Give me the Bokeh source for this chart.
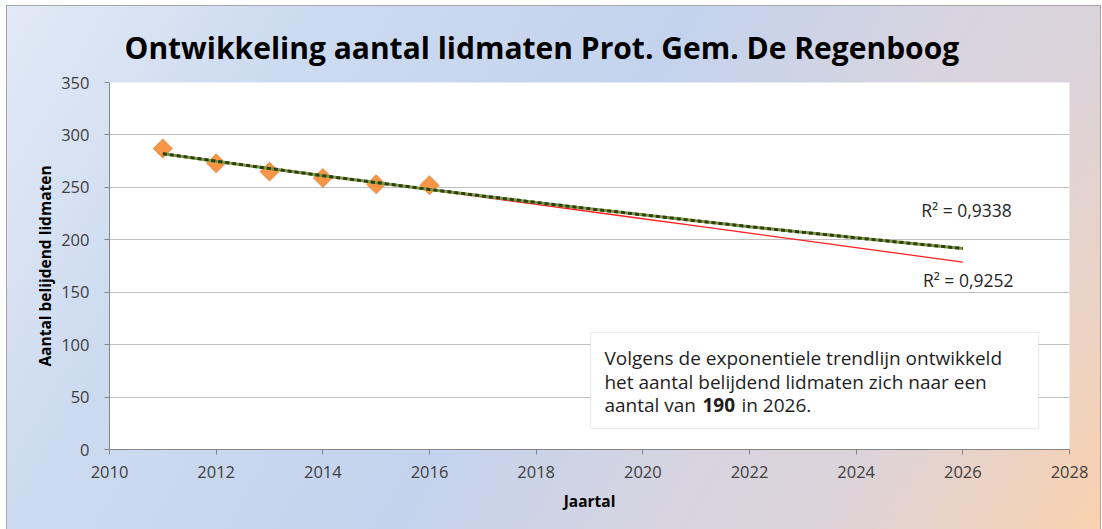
import numpy as np
from bokeh.plotting import figure
from bokeh.models import Label, BoxAnnotation, SingleIntervalTicker, Range1d, ColumnDataSource
from bokeh.embed import file_html
from bokeh.resources import INLINE

# ---------------- data ----------------
years = [2011, 2012, 2013, 2014, 2015, 2016]
members = [287, 273, 265, 259, 253, 252]
forecast_years = list(range(2011, 2027))
r2_exp_text = "R² = 0,9338"
r2_lin_text = "R² = 0,9252"
title_text = "Ontwikkeling aantal lidmaten Prot. Gem. De Regenboog"
x_label = "Jaartal"
y_label = "Aantal belijdend lidmaten"
note_lines = ["Volgens de exponentiele trendlijn ontwikkeld",
              "het aantal belijdend lidmaten zich naar een"]
note_last = ["aantal van", "190", "in 2026."]

# ---------------- trendlines (fits of the data) ----------------
xa = np.array(years, dtype=float) - 2011
ya = np.array(members, dtype=float)
fx = np.array(forecast_years, dtype=float)
m_lin, b_lin = np.polyfit(xa, ya, 1)
lin_y = m_lin * (fx - 2011) + b_lin
m_exp, b_exp = np.polyfit(xa, np.log(ya), 1)
exp_y = np.exp(b_exp + m_exp * (fx - 2011))

FONT = "Open Sans"

p = figure(width=1101, height=529, output_backend="svg", toolbar_location=None,
           x_range=Range1d(2010, 2028), y_range=Range1d(0, 350),
           min_border_left=109, min_border_right=32, min_border_top=82, min_border_bottom=80)
p.styles = {
    "background": "linear-gradient(120deg, #e3eaf6 0%, #cddbf0 22%, #c4d3ed 50%, #d7d4e0 68%, #dcd3da 80%, #fad2ae 100%)",
    "box-shadow": "inset 6px 5px 0 0 white, inset 7px 6px 0 0 #a6a6a6, inset -1px 0 0 0 #a6a6a6",
}
p.border_fill_color = None
p.background_fill_color = "white"
p.outline_line_color = None

p.title.text = title_text
p.title.text_font = FONT
p.title.text_font_style = "bold"
p.title.text_font_size = "30px"
p.title.text_color = "black"
p.title.align = "left"
p.title.offset = 15
p.title.standoff = 30

# axes
p.xaxis.ticker = SingleIntervalTicker(interval=2)
p.yaxis.ticker = SingleIntervalTicker(interval=50)
for ax in (p.xaxis[0], p.yaxis[0]):
    ax.axis_line_color = "#868686"
    ax.major_tick_line_color = "#868686"
    ax.minor_tick_line_color = None
    ax.major_tick_in = 0
    ax.major_tick_out = 5
    ax.major_label_text_font = FONT
    ax.major_label_text_font_size = "16.5px"
    ax.major_label_text_color = "#404040"
    ax.axis_label_text_font = FONT
    ax.axis_label_text_font_style = "bold"
    ax.axis_label_text_font_size = "15.5px"
    ax.axis_label_text_color = "black"
p.xaxis.axis_label = x_label
p.yaxis.axis_label = y_label
p.yaxis.major_label_standoff = 15
p.xaxis.major_label_standoff = 11
p.yaxis.axis_label_standoff = 2
p.xaxis.axis_label_standoff = 9

p.xgrid.grid_line_color = None
p.ygrid.grid_line_color = "#bfbfbf"
p.ygrid.grid_line_width = 1

# markers
src = ColumnDataSource(dict(x=years, y=members))
p.scatter("x", "y", source=src, marker="square", angle=np.pi / 4, size=15.5,
          fill_color="#7f7f7f", fill_alpha=0.18, line_color=None)
p.scatter("x", "y", source=src, marker="square", angle=np.pi / 4, size=13,
          fill_color="#f79646", line_color="#f0872e", line_width=1)

# trendlines
p.line(forecast_years, lin_y, line_color="#ff2020", line_width=1.3)
p.line(forecast_years, exp_y, line_color="#7a9a3c", line_width=3)
p.line(forecast_years, exp_y, line_color="#2f3d14", line_width=3, line_dash="4 3")

# R² labels
p.add_layout(Label(x=2026.07, y=228, text=r2_exp_text, text_font=FONT, text_font_size="17.5px",
                   text_color="#262626", text_align="center", text_baseline="middle"))
p.add_layout(Label(x=2026.1, y=162, text=r2_lin_text, text_font=FONT, text_font_size="17.5px",
                   text_color="#262626", text_align="center", text_baseline="middle"))

# note box
p.add_layout(BoxAnnotation(left=2019.02, right=2027.42, bottom=20, top=111.6,
                           fill_color="white", fill_alpha=1, line_color="#bfbfbf", line_width=1.2))
note_x = 2019.28
base_ys = [87.7, 64.8, 42.0]
for txt, yy in zip(note_lines, base_ys[:2]):
    p.add_layout(Label(x=note_x, y=yy, text=txt, text_font=FONT, text_font_size="19px",
                       text_color="#1e1e1e", text_baseline="alphabetic"))
offs = [0, 98, 137]
styles = ["normal", "bold", "normal"]
for txt, off, st in zip(note_last, offs, styles):
    p.add_layout(Label(x=note_x, y=base_ys[2], x_offset=off, text=txt, text_font=FONT,
                       text_font_size="19px", text_font_style=st, text_color="#1e1e1e",
                       text_baseline="alphabetic"))

open("out.html", "w").write(file_html(p, INLINE))
